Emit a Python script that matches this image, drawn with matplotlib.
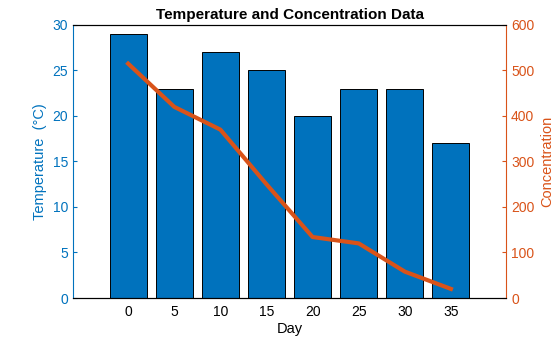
import matplotlib.pyplot as plt

plt.rcParams['font.family'] = ['Liberation Sans', 'DejaVu Sans']

# data
days = [0, 5, 10, 15, 20, 25, 30, 35]
temperature = [29, 23, 27, 25, 20, 23, 23, 17]
concentration = [515, 420, 370, 250, 134, 120, 58, 20]

blue = '#0072BD'
orange = '#D95319'

fig = plt.figure(figsize=(5.6, 3.37), dpi=100)
ax = fig.add_axes([0.130, 0.1157, 0.774, 0.8103])

ax.bar(days, temperature, width=4, color=blue, edgecolor='black', linewidth=0.7, zorder=2)
ax.set_xlim(-6, 41)
ax.set_ylim(0, 30)
ax.set_xticks(days)
ax.set_yticks(range(0, 31, 5))
ax.set_xlabel('Day', fontsize=10.5, labelpad=2)
ax.set_ylabel('Temperature  (°C)', color=blue, fontsize=10.5, labelpad=4)
ax.tick_params(axis='y', colors=blue, direction='in', labelsize=10, length=3)
ax.tick_params(axis='x', direction='in', labelsize=10, length=0, pad=5)
ax.spines['left'].set_color(blue)
ax.spines['right'].set_visible(False)

ax2 = ax.twinx()
ax2.plot(days, concentration, color=orange, linewidth=3, zorder=3)
ax2.set_ylim(0, 600)
ax2.set_yticks(range(0, 601, 100))
ax2.set_ylabel('Concentration', color=orange, fontsize=10.5, labelpad=4)
ax2.tick_params(axis='y', colors=orange, direction='in', labelsize=10, length=3)
ax2.spines['right'].set_color(orange)
ax2.spines['left'].set_visible(False)

ax.set_title('Temperature and Concentration Data', fontsize=11, fontweight='bold', pad=4)

for a in (ax, ax2):
    for s in a.spines.values():
        s.set_linewidth(0.8)

fig.savefig('out.png', dpi=100)
